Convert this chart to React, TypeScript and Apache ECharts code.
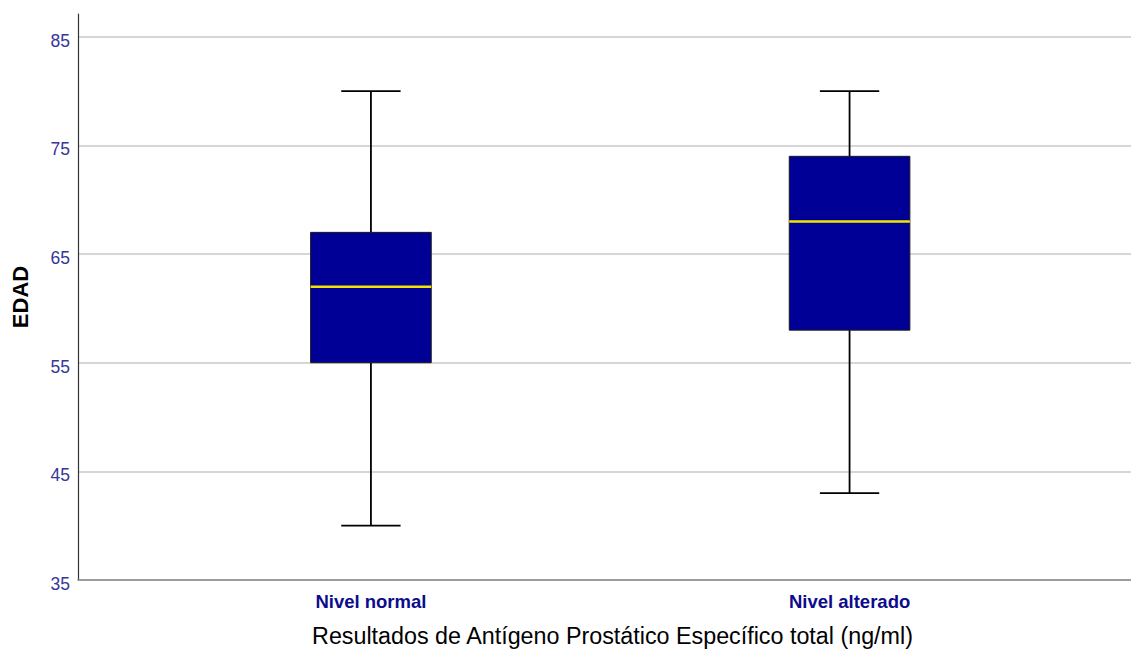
import React, { useEffect, useRef } from "react";
import * as echarts from "echarts";

const categories = ["Nivel normal", "Nivel alterado"];
// [min, Q1, median, Q3, max]
const boxStats = [
  [40, 55, 62, 67, 80],
  [43, 58, 68, 74, 80],
];
const yTicks = [35, 45, 55, 65, 75, 85];

export default function App() {
  const ref = useRef<HTMLDivElement>(null);
  useEffect(() => {
    if (!ref.current) return;
    const chart = echarts.init(ref.current, null, { renderer: "svg" });
    const data = boxStats.map((s, i) => [i + 1, ...s]);
    const gridColors = yTicks.map(() => "#c9c9c9");
    gridColors.push("transparent");
    chart.setOption({
      animation: false,
      backgroundColor: "#ffffff",
      grid: { left: 78, right: 0, top: 14, bottom: 72 },
      xAxis: {
        type: "value",
        min: 0.388,
        max: 2.588,
        name: "Resultados de Antígeno Prostático Específico total (ng/ml)",
        nameLocation: "middle",
        nameGap: 44,
        nameTextStyle: {
          fontFamily: "Liberation Sans, Arial",
          fontSize: 23.3,
          color: "#000000",
          padding: [0, 0, 0, 16],
        },
        axisLine: { onZero: false, lineStyle: { color: "#8a8a8a", width: 1.5 } },
        axisTick: { show: false },
        splitLine: { show: false },
        axisLabel: {
          customValues: [1, 2],
          formatter: (v: number) => categories[Math.round(v) - 1] ?? "",
          fontFamily: "Liberation Sans, Arial",
          fontWeight: "bold",
          fontSize: 18.5,
          color: "#0c0c8c",
          margin: 12,
        },
      },
      yAxis: {
        type: "value",
        min: 35,
        max: 87.1,
        interval: 10,
        name: "EDAD",
        nameLocation: "middle",
        nameGap: 47,
        nameTextStyle: {
          fontFamily: "Liberation Sans, Arial",
          fontSize: 22,
          fontWeight: "bold",
          color: "#000000",
        },
        axisLine: { show: true, lineStyle: { color: "#333333", width: 1.2 } },
        axisTick: { show: false },
        axisLabel: {
          showMaxLabel: false,
          formatter: (v: number) => (yTicks.includes(v) ? "{t|" + v + "}" : ""),
          margin: 8,
          rich: {
            t: {
              fontFamily: "Liberation Sans, Arial",
              fontSize: 17.5,
              color: "#36369a",
              padding: [8, 0, 0, 0],
            },
          },
        },
        splitLine: { show: true, lineStyle: { color: gridColors, width: 1.5 } },
      },
      series: [
        {
          type: "custom",
          data,
          encode: { x: 0, y: [1, 2, 3, 4, 5] },
          renderItem: (params: any, api: any) => {
            const x = api.value(0);
            const pMin = api.coord([x, api.value(1)]);
            const pQ1 = api.coord([x, api.value(2)]);
            const pMed = api.coord([x, api.value(3)]);
            const pQ3 = api.coord([x, api.value(4)]);
            const pMax = api.coord([x, api.value(5)]);
            const unit = api.size([1, 0])[0];
            const bw = (unit * 0.252) / 2;
            const cw = (unit * 0.124) / 2;
            const cx = pMed[0];
            const whisker = { stroke: "#000000", lineWidth: 1.8 };
            return {
              type: "group",
              children: [
                { type: "line", shape: { x1: cx, y1: pQ3[1], x2: cx, y2: pMax[1] }, style: whisker },
                { type: "line", shape: { x1: cx, y1: pQ1[1], x2: cx, y2: pMin[1] }, style: whisker },
                { type: "line", shape: { x1: cx - cw, y1: pMax[1], x2: cx + cw, y2: pMax[1] }, style: whisker },
                { type: "line", shape: { x1: cx - cw, y1: pMin[1], x2: cx + cw, y2: pMin[1] }, style: whisker },
                {
                  type: "rect",
                  shape: { x: cx - bw, y: pQ3[1], width: 2 * bw, height: pQ1[1] - pQ3[1] },
                  style: { fill: "#000096", stroke: "#1a1a1a", lineWidth: 1 },
                },
                {
                  type: "line",
                  shape: { x1: cx - bw, y1: pMed[1], x2: cx + bw, y2: pMed[1] },
                  style: { stroke: "#f2e600", lineWidth: 2.5 },
                },
              ],
            };
          },
        },
      ],
    });
    return () => chart.dispose();
  }, []);
  return (
    <div
      ref={ref}
      style={{ position: "fixed", left: 0, top: 0, width: 1131, height: 652 }}
    />
  );
}
